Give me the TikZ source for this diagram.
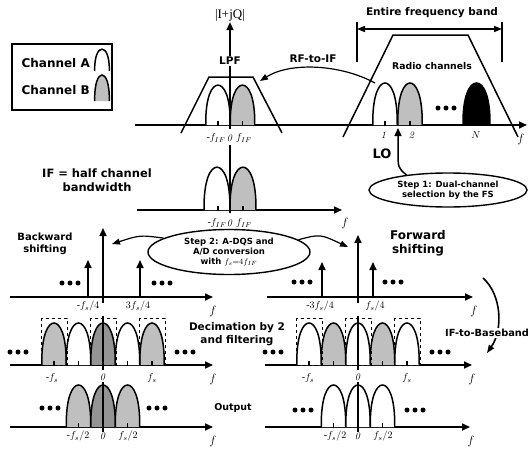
\documentclass[tikz,border=0pt]{standalone}
\usepackage[no-math]{fontspec}
\setmainfont{DejaVu Sans}
\newfontfamily\serifrm{Liberation Serif}
\usetikzlibrary{arrows.meta,shapes.geometric}
\newcommand{\mn}{\mbox{\serifrm -}}
\tikzset{ax/.style={line width=1.6pt,-{Triangle[length=8pt,width=7pt]}},thinarr/.style={line width=1.2pt,-{Triangle[length=8pt,width=6pt]}},
 chA/.style={draw,line width=1.5pt,fill=white},chB/.style={chA,fill=black!25},chAB/.style={chA,fill=black!42},chN/.style={chA,fill=black},
 txt/.style={font=\bfseries\fontsize{#1}{1.2\dimexpr#1pt\relax}\selectfont,align=center,inner sep=1pt},txt/.default=10,
 lbl/.style={font=\fontsize{10}{12}\selectfont,inner sep=1pt},flbl/.style={font=\fontsize{13}{14}\selectfont,inner sep=1pt},
 stepbox/.style={draw,ellipse,line width=1.4pt,inner sep=0pt},selbox/.style={draw,dashed,line width=.8pt},
 pics/chan/.style={code={\path[pic actions] (-12.25,0) .. controls (-12.6,-30) and (-6,-42) .. (0,-42) .. controls (6,-42) and (12.6,-30) .. (12.25,0);}},
 pics/tk/.style={code={\draw[line width=1.5pt] (0,-4) -- (0,1);}},
 pics/tridots/.style={code={\foreach \dx in {-8,0,8} \fill (\dx,0) circle (2.5);}}}
\begin{document}
\begin{tikzpicture}[x=1pt,y=-1pt]
\useasboundingbox (0,0) rectangle (531,453);
% legend
\draw[line width=1.3pt] (12,44) rectangle (112,110);
\node[txt=12,anchor=east] (legA) at (91,63) {Channel A};
\node[txt=12,anchor=east] (legB) at (91,90) {Channel B};
\pic[chA,xscale=.6,yscale=.52] at (102,71) {chan};\pic[chB,xscale=.6,yscale=.62] at (102,101) {chan};
% RF band and LPF
\draw[ax] (135,125) -- (527,125);\node[flbl] (fRF) at (521,139) {$f$};
\draw[line width=1.5pt] (181,133) -- (209,77) -- (253,77) -- (282,133);
\pic[chA,yscale=.95] at (218,125) {chan};\pic[chB,yscale=.95] at (242.5,125) {chan};
\node[txt=10.5] (lpf) at (230,61) {LPF};
\node[font=\serifrm\fontsize{13}{14}\selectfont,inner sep=1pt] (iq) at (230,15) {|I+jQ|};
\draw[line width=1.5pt] (230,129) -- (lpf.south);\draw[ax] (lpf.north) -- (iq.south);
\foreach \c in {218,242.5} \pic at (\c,125) {tk};
\node[lbl] (lpfL) at (216,138) {$\mn f_{IF}$};\node[lbl] (lpfO) at (230,138) {$\mathit{0}$};\node[lbl] (lpfR) at (244,138) {$f_{IF}$};
\draw[line width=1.5pt] (357,22) -- (357,62) (502,22) -- (502,62);
\coordinate (bandL) at (357,29);\coordinate (bandR) at (502,29);
\draw[line width=1.5pt,{Triangle[length=8pt,width=6pt]}-{Triangle[length=8pt,width=6pt]}] (bandL) -- (bandR);
\node[txt=10.5] (band) at (432,13) {Entire frequency band};
\draw[line width=1.5pt] (343,137) -- (393,35) -- (468,35) -- (518,137);
\node[txt=9.3] (radio) at (432,66) {Radio channels};
\pic[chA] at (385,125) {chan};\pic[chB] at (410,125) {chan};\pic[chN,xscale=1.1] at (476.5,125) {chan};
\pic at (446,108) {tridots};
\foreach \c in {385,410,476.5} \pic at (\c,125) {tk};
\node[lbl] (ch1) at (384,135) {$\mathit{1}$};\node[lbl] (ch2) at (412,135) {$\mathit{2}$};\node[lbl] (chN) at (476,135) {$N$};
\coordinate (c1top) at (375,83);\coordinate (lpfE) at (260,81);
\draw[thinarr] (c1top) .. controls (340,64) and (290,62) .. (lpfE);
\node[txt=10.5] (rfif) at (313,59) {RF-to-IF};
% step 1 and LO
\node[stepbox,txt=8.5,minimum width=158pt,minimum height=34pt] (step1) at (448,190) {Step 1: Dual-channel\\selection by the FS};
\coordinate (loTip) at (398,128);
\draw[ax,line width=1.5pt] (step1.160) .. controls (398,168) .. (398,150) -- (loTip);
\node[txt=13] (lo) at (382,154) {LO};
% IF spectrum
\draw[ax] (137,210) -- (342,210);\node[flbl] (fIF) at (345,223) {$f$};
\pic[chA,xscale=1.06,yscale=1.02] at (217,210) {chan};\pic[chB,xscale=1.06,yscale=1.02] at (243,210) {chan};
\draw[line width=1.5pt] (230,145) -- (230,213);
\foreach \c in {218,243} \pic at (\c,210) {tk};
\node[lbl] (ifL) at (217,223) {$\mn f_{IF}$};\node[lbl] (ifO) at (230,223) {$\mathit{0}$};\node[lbl] (ifR) at (244,223) {$f_{IF}$};
\node[txt=11.5] (ifnote) at (97,180) {IF = half channel\\bandwidth};
% step 2 and shifting
\node[stepbox,txt=8.5,minimum width=162pt,minimum height=45pt] (step2) at (229,252) {Step 2: A-DQS and\\A/D conversion\\with $f_s{=}4f_{IF}$};
\draw[ax] (10,297) -- (213,297);\node[flbl] (fB) at (213,311) {$f$};
\draw[ax] (103,303) -- (103,228);\draw[ax] (88,297) -- (88,260);\draw[ax] (140,297) -- (140,260);
\pic at (70,283) {tridots};\pic at (162,283) {tridots};
\node[lbl] (bL) at (88,306) {$\mn f_s/4$};\node[lbl] (bR) at (138,306) {$3f_s/4$};
\node[txt=10] (bwd) at (45,244) {Backward\\shifting};
\coordinate (bTip) at (112,244);\draw[thinarr] (step2.168) .. controls (140,235) .. (bTip);
\draw[ax] (267,297) -- (473,297);\node[flbl] (fF) at (474,311) {$f$};
\draw[ax] (358,303) -- (358,235);\draw[ax] (322,297) -- (322,262);\draw[ax] (373,297) -- (373,262);
\pic at (302,282) {tridots};\pic at (393,282) {tridots};
\node[lbl] (fL) at (320,306) {$\mn 3f_s/4$};\node[lbl] (fR) at (375,306) {$f_s/4$};
\node[txt=12] (fwd) at (418,243) {Forward\\shifting};
\coordinate (fTip) at (348,247);\draw[thinarr] (step2.10) .. controls (320,234) .. (fTip);
% decimation by 2
\draw[ax] (10,365) -- (213,365);\node[flbl] (fDl) at (213,379) {$f$};
\draw[ax] (265,365) -- (472,365);\node[flbl] (fDr) at (472,379) {$f$};
\foreach \c in {54,152,333.5,382.5} \pic[chB] at (\c,365) {chan};
\foreach \c in {78.5,127.5,309,358,407} \pic[chA] at (\c,365) {chan};
\pic[chAB] at (103,365) {chan};
\foreach \c in {54,103,152,309,358,407} \draw[selbox] (\c-13,318) rectangle (\c+13,365);
\draw[line width=1.5pt] (103,316) -- (103,370) (358,316) -- (358,370);
\foreach \c in {54,78.5,127.5,152,309,333.5,382.5,407} \pic at (\c,365) {tk};
\foreach \c in {18,185,273,440} \pic at (\c,352) {tridots};
\node[lbl] (dLl) at (52,378) {$\mn f_s$};\node[lbl] (dLo) at (103,377) {$\mathit{0}$};\node[lbl] (dLr) at (152,378) {$f_s$};
\node[lbl] (dRl) at (308,378) {$\mn f_s$};\node[lbl] (dRo) at (358,377) {$\mathit{0}$};\node[lbl] (dRr) at (407,378) {$f_s$};
\node[txt=10.5] (decim) at (237,334) {Decimation by 2\\and filtering};
% output
\draw[ax] (10,427) -- (213,427);\node[flbl] (fOl) at (213,441) {$f$};
\draw[ax] (265,427) -- (470,427);\node[flbl] (fOr) at (471,441) {$f$};
\foreach \c in {78.5,127.5} \pic[chB] at (\c,427) {chan};
\pic[chAB] at (103,427) {chan};
\foreach \c in {333.5,358,382.5} \pic[chA] at (\c,427) {chan};
\draw[line width=1.5pt] (103,382) -- (103,432) (358,382) -- (358,432);
\foreach \c in {78.5,127.5,333.5,382.5} \pic at (\c,427) {tk};
\pic at (50,408) {tridots};\pic at (157,408) {tridots};\pic at (303,410) {tridots};\pic at (415,410) {tridots};
\node[lbl] (oLl) at (78,436) {$\mn f_s/2$};\node[lbl] (oLo) at (103,436) {$\mathit{0}$};\node[lbl] (oLr) at (128,436) {$f_s/2$};
\node[lbl] (oRl) at (335,436) {$\mn f_s/2$};\node[lbl] (oRo) at (358,436) {$\mathit{0}$};\node[lbl] (oRr) at (383,436) {$f_s/2$};
\node[txt=9.5] (outp) at (233,408) {Output};
% IF to baseband
\coordinate (ibS) at (483,278);\coordinate (ibE) at (487,353);
\draw[thinarr,line width=1.6pt] (ibS) .. controls (502,295) and (503,330) .. (ibE);
\node[txt=9.8,fill=white] (ifbb) at (487,333) {IF-to-Baseband};
\end{tikzpicture}
\end{document}
